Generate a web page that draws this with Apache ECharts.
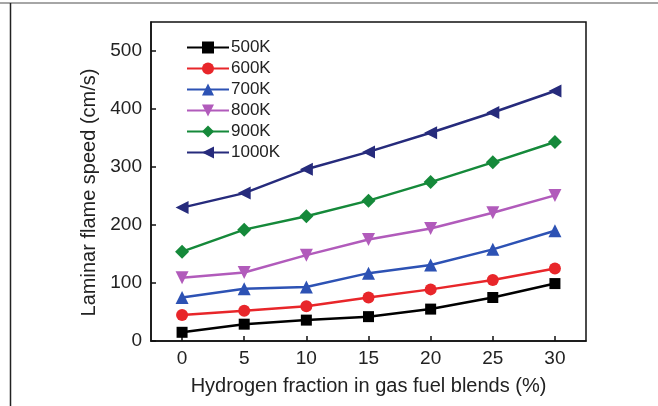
<!DOCTYPE html>
<html><head><meta charset="utf-8">
<script src="https://cdn.jsdelivr.net/npm/echarts@6/dist/echarts.min.js"></script>
<style>html,body{margin:0;padding:0;background:#fff}#c{width:658px;height:406px}</style>
</head><body><div id="c"></div>
<script>
const xValues = [0, 5, 10, 15, 20, 25, 30];
const seriesNames = ['500K', '600K', '700K', '800K', '900K', '1000K'];
const s500 = [15, 29, 36, 42, 55, 75, 99];
const s600 = [45, 52, 60, 75, 89, 105, 125];
const s700 = [75, 90, 93, 117, 131, 158, 190];
const s800 = [109, 118, 148, 175, 194, 221, 251];
const s900 = [154, 192, 215, 242, 274, 308, 343];
const s1000 = [230, 255, 296, 326, 359, 394, 431];
const xTicks = [0, 5, 10, 15, 20, 25, 30];
const yTicks = [0, 100, 200, 300, 400, 500];

const allData = [s500, s600, s700, s800, s900, s1000];
const colors = ['#000000', '#e8262a', '#2d52b4', '#b15bbb', '#15893a', '#262b7c'];
const symbols = ['rect', 'circle', 'triangle', 'triangle', 'diamond', 'triangle'];
const rotates = [0, 0, 0, 180, 0, 90];
const sizes = [11, 12, 13, 13, 14, 13];

const chart = echarts.init(document.getElementById('c'));
const font = 'Liberation Sans, Arial, sans-serif';
chart.setOption({
  animation: false,
  backgroundColor: '#fff',
  graphic: [
    { type: 'line', shape: { x1: 0, y1: 3, x2: 658, y2: 3 }, style: { stroke: '#888', lineWidth: 1.5 } },
    { type: 'line', shape: { x1: 10.5, y1: 3, x2: 10.5, y2: 406 }, style: { stroke: '#222', lineWidth: 1.5 } }
  ],
  grid: { left: 151, right: 72, top: 22, bottom: 65, show: true, borderColor: '#111', borderWidth: 1.5, backgroundColor: 'transparent' },
  legend: {
    orient: 'vertical', left: 181, top: 34, itemWidth: 42, itemHeight: 15, itemGap: 4,
    textStyle: { fontFamily: font, fontSize: 17, color: '#222', padding: [0, 0, 0, -3] },
    data: seriesNames
  },
  xAxis: {
    type: 'value', min: -2.5, max: 32.5, interval: 5,
    name: 'Hydrogen fraction in gas fuel blends (%)', nameLocation: 'middle', nameGap: 35,
    nameTextStyle: { fontFamily: font, fontSize: 20, color: '#222' },
    axisLine: { onZero: false, lineStyle: { color: '#111', width: 1.5 } },
    axisTick: { inside: true, length: 5, lineStyle: { color: '#111', width: 1.5 },
      customValues: xTicks },
    axisLabel: { fontFamily: font, fontSize: 19, color: '#222', margin: 8, customValues: xTicks },
    splitLine: { show: false }
  },
  yAxis: {
    type: 'value', min: 0, max: 550,
    name: 'Laminar flame speed (cm/s)', nameLocation: 'middle', nameGap: 42,
    nameTextStyle: { fontFamily: font, fontSize: 20, color: '#222', padding: [0, 22, 0, 0] },
    axisLine: { show: true, onZero: false, lineStyle: { color: '#111', width: 1.5 } },
    axisTick: { show: true, inside: true, length: 5, lineStyle: { color: '#111', width: 1.5 }, customValues: yTicks },
    axisLabel: { fontFamily: font, fontSize: 19, color: '#222', margin: 9, customValues: yTicks },
    splitLine: { show: false }
  },
  series: seriesNames.map((n, i) => ({
    name: n, type: 'line',
    data: xValues.map((x, j) => [x, allData[i][j]]),
    symbol: symbols[i], symbolRotate: rotates[i], symbolSize: sizes[i],
    itemStyle: { color: colors[i] },
    lineStyle: { color: colors[i], width: 2.5 }
  }))
});
</script></body></html>
